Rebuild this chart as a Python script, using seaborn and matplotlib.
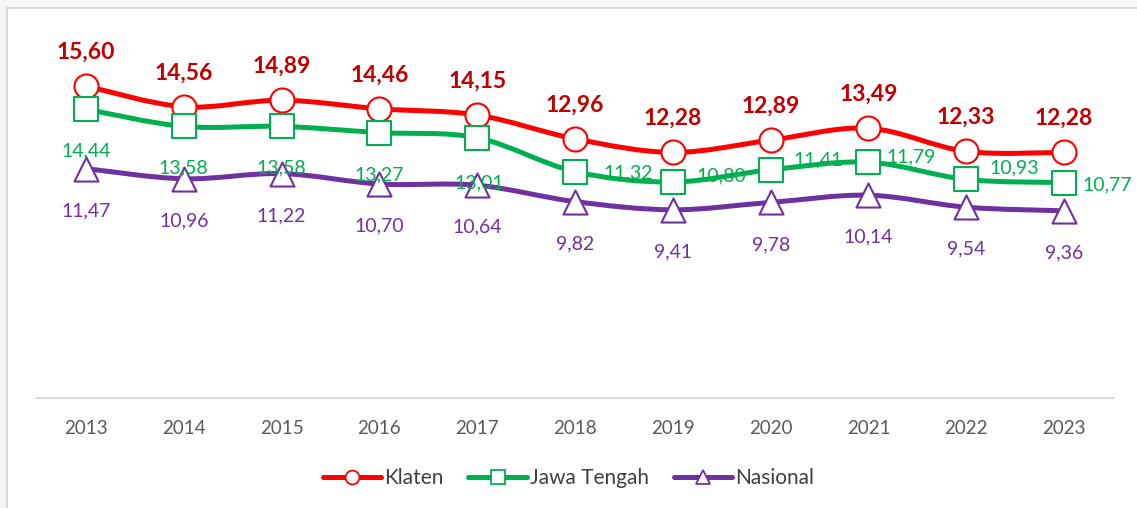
import numpy as np
import matplotlib
matplotlib.use("Agg")
import matplotlib.pyplot as plt
from matplotlib.path import Path
from matplotlib.patches import PathPatch, Rectangle
from matplotlib.lines import Line2D
import seaborn as sns

# data
years = ["2013", "2014", "2015", "2016", "2017", "2018", "2019", "2020", "2021", "2022", "2023"]
klaten = [15.60, 14.56, 14.89, 14.46, 14.15, 12.96, 12.28, 12.89, 13.49, 12.33, 12.28]
jateng = [14.44, 13.58, 13.58, 13.27, 13.01, 11.32, 10.80, 11.41, 11.79, 10.93, 10.77]
nasional = [11.47, 10.96, 11.22, 10.70, 10.64, 9.82, 9.41, 9.78, 10.14, 9.54, 9.36]

# label offsets for Jawa Tengah (pixels, dx / dy up)
jateng_offsets = [(0, -42), (0, -41), (0, -41), (0, -42), (2, -45),
                  (53, -1), (49, 6), (48, 10), (43, 5), (48, 12), (43, -2)]

sns.set_theme(style="white")
plt.rcParams["font.family"] = ["Lato", "DejaVu Sans"]

fig = plt.figure(figsize=(11.37, 5.08), dpi=100, facecolor="#F6F6F8")
# white chart area with gray frame (open at right / bottom)
fig.patches.append(Rectangle((6.5 / 1137, -0.05), 1.1, 1 - 8 / 508 + 0.05,
                             transform=fig.transFigure, facecolor="white",
                             edgecolor="#D9D9D9", linewidth=1.5, zorder=-5))
ax = fig.add_axes([37 / 1137, 110 / 508, (1113 - 37) / 1137, (398 - 34) / 508])
ax.set_facecolor("none")
ax.set_zorder(2)

x = np.arange(len(years))


def smooth_path(xs, ys):
    # Excel-like smoothed line: cubic Bezier with Catmull-Rom tangents
    pts = np.column_stack([xs, ys]).astype(float)
    n = len(pts)
    verts = [pts[0]]
    codes = [Path.MOVETO]
    for i in range(n - 1):
        p0 = pts[i - 1] if i > 0 else pts[i]
        p1 = pts[i]
        p2 = pts[i + 1]
        p3 = pts[i + 2] if i + 2 < n else pts[i + 1]
        c1 = p1 + (p2 - p0) / 6
        c2 = p2 - (p3 - p1) / 6
        verts += [c1, c2, p2]
        codes += [Path.CURVE4] * 3
    return Path(verts, codes)


series = [
    ("Klaten", klaten, "#FF0000", "o"),
    ("Jawa Tengah", jateng, "#00B050", "s"),
    ("Nasional", nasional, "#7030A0", "^"),
]

for name, vals, col, mk in series:
    ax.add_patch(PathPatch(smooth_path(x, vals), facecolor="none", edgecolor=col,
                           linewidth=3.6, capstyle="round", zorder=2))
    sns.scatterplot(x=x, y=vals, ax=ax, marker=mk, s=300, color=col,
                    facecolor="white", edgecolor=col, linewidth=1.5, zorder=3,
                    legend=False)

# data labels
for i, v in enumerate(klaten):
    ax.annotate(f"{v:.2f}".replace(".", ","), (x[i], v), xytext=(0, 34 * 0.72),
                textcoords="offset points", ha="center", va="center",
                fontsize=16.5, fontweight="bold", color="#C00000")
for i, v in enumerate(jateng):
    dx, dy = jateng_offsets[i]
    ax.annotate(f"{v:.2f}".replace(".", ","), (x[i], v), xytext=(dx * 0.72, dy * 0.72),
                textcoords="offset points", ha="center", va="center",
                fontsize=14, color="#00B050", zorder=4)
for i, v in enumerate(nasional):
    ax.annotate(f"{v:.2f}".replace(".", ","), (x[i], v), xytext=(0, -42 * 0.72),
                textcoords="offset points", ha="center", va="center",
                fontsize=14, color="#7030A0")

ax.set_xlim(-0.5, len(years) - 0.5)
ax.set_ylim(0, 18.2)
ax.set_xticks(x)
ax.set_xticklabels(years, fontsize=13.5, color="#595959")
ax.set_yticks([])
ax.tick_params(axis="x", length=0, pad=16)
for s in ["top", "right", "left"]:
    ax.spines[s].set_visible(False)
ax.spines["bottom"].set_color("#D9D9D9")
ax.spines["bottom"].set_linewidth(1.5)
ax.set_xlabel("")
ax.set_ylabel("")

handles = [Line2D([0], [0], color=col, lw=3.6, marker=mk, markersize=10,
                  markerfacecolor="white", markeredgecolor=col, markeredgewidth=1.3,
                  label=name) for name, vals, col, mk in series]
leg = fig.legend(handles=handles, loc="center", bbox_to_anchor=(0.5, 30 / 508),
                 ncol=3, frameon=False, fontsize=15, handlelength=2.8,
                 handletextpad=0.15, columnspacing=1.2)
for t in leg.get_texts():
    t.set_color("#404040")

fig.savefig("out.png", dpi=100, facecolor=fig.get_facecolor())
